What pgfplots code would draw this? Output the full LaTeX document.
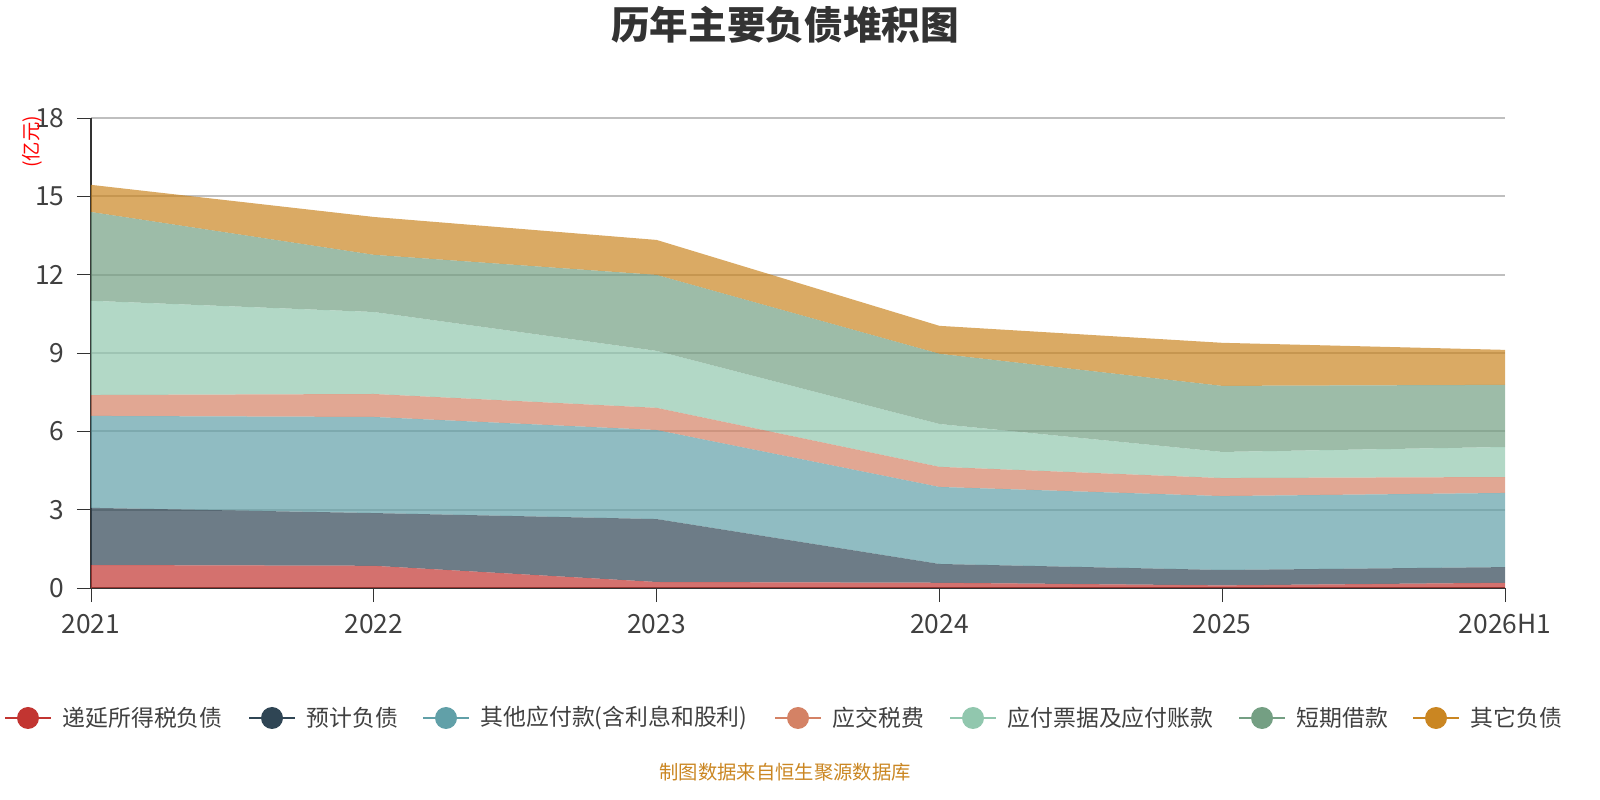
\documentclass[border=0pt]{standalone}
\usepackage{pgfplots}
\pgfplotsset{compat=1.18}
\usepackage{fontspec}
\setmainfont{Noto Sans CJK SC}
\definecolor{c1}{HTML}{C23531}
\definecolor{c2}{HTML}{2F4554}
\definecolor{c3}{HTML}{61A0A8}
\definecolor{c4}{HTML}{D48265}
\definecolor{c5}{HTML}{91C7AE}
\definecolor{c6}{HTML}{749F83}
\definecolor{c7}{HTML}{CA8622}
\begin{document}
\begin{tikzpicture}
\path[use as bounding box] (0,0) rectangle (16,8);
\begin{axis}[at={(0.91cm,2.12cm)},anchor=south west,scale only axis,width=14.14cm,height=4.7cm,
 xmin=0,xmax=5,ymin=0,ymax=18,ytick={0,3,...,18},xtick={0,...,5},
 xticklabels={2021,2022,2023,2024,2025,2026H1},
 stack plots=y,axis x line*=bottom,axis y line*=left,
 ymajorgrids,grid style={gray!50,line width=0.6pt},
 tick align=outside,major tick length=4pt,
 x axis line style={-,black!80},y axis line style={-,black!80},
 tick style={black!80},
 ticklabel style={font=\fontsize{7.5pt}{8pt}\selectfont,text=black!75},
 /pgf/number format/assume math mode=true,
 every axis plot/.append style={draw=none,fill opacity=0.7}]
\addplot[fill=c1] coordinates {(0,0.88)(1,0.85)(2,0.23)(3,0.20)(4,0.10)(5,0.20)} \closedcycle;
\addplot[fill=c2] coordinates {(0,2.19)(1,2.02)(2,2.41)(3,0.72)(4,0.59)(5,0.60)} \closedcycle;
\addplot[fill=c3] coordinates {(0,3.52)(1,3.68)(2,3.41)(3,2.95)(4,2.83)(5,2.84)} \closedcycle;
\addplot[fill=c4] coordinates {(0,0.80)(1,0.88)(2,0.85)(3,0.77)(4,0.69)(5,0.61)} \closedcycle;
\addplot[fill=c5] coordinates {(0,3.61)(1,3.14)(2,2.18)(3,1.64)(4,1.00)(5,1.15)} \closedcycle;
\addplot[fill=c6] coordinates {(0,3.40)(1,2.19)(2,2.91)(3,2.69)(4,2.53)(5,2.38)} \closedcycle;
\addplot[fill=c7] coordinates {(0,1.04)(1,1.45)(2,1.34)(3,1.07)(4,1.65)(5,1.34)} \closedcycle;
\end{axis}
\node[font=\fontsize{11pt}{12pt}\selectfont\bfseries,text=black!80] at (7.85,7.75) {历年主要负债堆积图};
\node[rotate=90,text=red,font=\fontsize{5.5pt}{6pt}\selectfont] at (0.32,6.58) {(亿元)};
\node[text=c7,font=\fontsize{5.5pt}{6pt}\selectfont] at (7.85,0.28) {制图数据来自恒生聚源数据库};
\foreach \x/\c/\t in {0.28/c1/递延所得税负债,2.72/c2/预计负债,4.46/c3/其他应付款(含利息和股利),7.98/c4/应交税费,9.73/c5/应付票据及应付账款,12.62/c6/短期借款,14.36/c7/其它负债}{
 \draw[\c,line width=0.8pt] (\x-0.23,0.82)--(\x+0.23,0.82);
 \fill[\c] (\x,0.82) circle (0.11);
 \node[anchor=west,inner sep=0,text=black!75,font=\fontsize{6.5pt}{7pt}\selectfont] at (\x+0.34,0.82) {\t};
}
\end{tikzpicture}
\end{document}
